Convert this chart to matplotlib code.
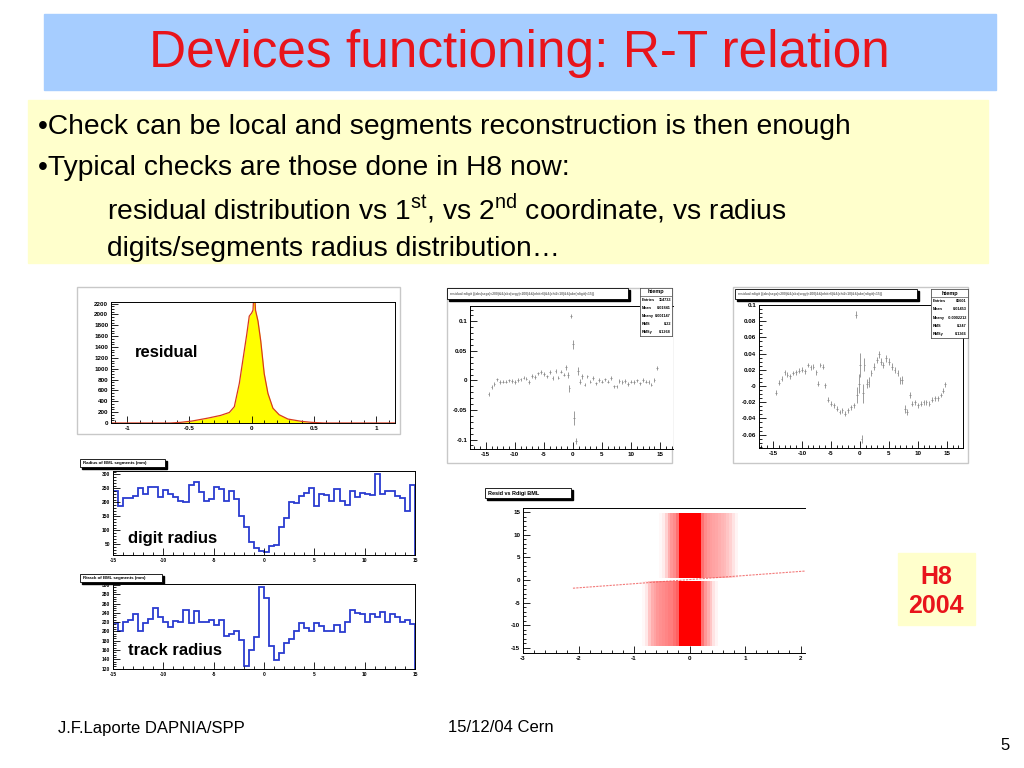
import numpy as np
import matplotlib
matplotlib.use('Agg')
import matplotlib.pyplot as plt
from matplotlib.patches import Rectangle
from matplotlib.colors import LinearSegmentedColormap
from matplotlib.ticker import MultipleLocator

plt.rcParams['font.family'] = ['Liberation Sans', 'DejaVu Sans']
plt.rcParams['mathtext.fontset'] = 'custom'
plt.rcParams['mathtext.rm'] = 'Liberation Sans'

W, H = 1024, 768

# residual distribution (TubeResol BIL - MultiLayer 0)
res_x = [-1.15, -0.65, -0.57, -0.48, -0.35, -0.25, -0.18, -0.14, -0.1, -0.072,
         -0.04, -0.02, 0.0, 0.01, 0.015, 0.025, 0.03, 0.05, 0.072, 0.1,
         0.13, 0.17, 0.22, 0.29, 0.4, 0.48, 0.58, 1.15]
res_y = [0, 0, 12, 36, 91, 140, 194, 300, 727, 1150,
         1636, 1970, 2030, 2080, 2300, 2300, 2080, 1880, 1515, 910,
         545, 273, 152, 73, 30, 12, 0, 0]

# <resid> vs radius, first profile
p1_x = [-14.5, -14, -13.5, -13, -12.5, -12, -11.5, -11, -10.5, -10, -9.5, -9, -8.5,
        -8, -7.5, -7, -6.5, -6, -5.5, -5, -4.5, -4, -3.5, -3, -2.5, -2, -1.5,
        -1.2, -0.9, -0.6, -0.3, 0, 0.2, 0.5, 0.9, 1.2, 1.5,
        2, 2.5, 3, 3.5, 4, 4.5, 5, 5.5, 6, 6.5, 7, 7.5, 8, 8.5, 9, 9.5, 10, 10.5,
        11, 11.5, 12, 12.5, 13, 13.5, 14, 14.5]
p1_y = [-0.023, -0.011, -0.006, 0.002, -0.003, -0.002, -0.002, 0, -0.001, -0.003,
        0.001, 0.002, 0.005, 0.003, -0.003, 0.008, 0.006, 0.012, 0.014, 0.011,
        0.007, 0.014, 0.004, 0.016, 0.005, 0.015, 0.01,
        0.022, 0.01, -0.013, 0.109, 0.061, -0.064, -0.103, 0.016, -0.002, 0.007,
        -0.007, 0.007, -0.002, 0.004, -0.005, 0.001, -0.002, 0.002, -0.002, 0.004,
        -0.01, -0.01, -0.001, -0.003, -0.001, -0.006, -0.002, -0.003, 0, -0.005,
        0.001, -0.002, -0.003, -0.007, 0.001, 0.021]
p1_err = ([0.003] * 27 + [0.005, 0.005, 0.006, 0.004, 0.008, 0.012, 0.005, 0.006]
          + [0.004] * 2 + [0.003] * 26)

# <resid> vs radius, second profile
p2_x = [-14.5, -14, -13.5, -13, -12.5, -12, -11.5, -11, -10.5, -10, -9.5, -9, -8.5,
        -8, -7.5, -7.2, -6.8, -6.3, -6, -5.5, -5, -4.5, -4, -3.5, -3, -2.5, -2,
        -1.5, -1, -0.6, -0.5, -0.2, 0, 0.3, 0.5, 0.8, 1.2, 1.5,
        2, 2.5, 3, 3.3, 3.7, 4, 4.5, 5, 5.5, 6, 6.5, 7, 7.3, 7.8, 8.2, 8.6,
        9, 9.5, 10, 10.5, 11, 11.5, 12, 12.5, 13, 13.5, 14, 14.3, 14.7]
p2_y = [-0.008, 0.004, 0.009, 0.017, 0.014, 0.012, 0.016, 0.017, 0.019, 0.02,
        0.018, 0.026, 0.023, 0.024, 0.017, 0.003, 0.026, 0.024, 0.001,
        -0.017, -0.022, -0.024, -0.028, -0.032, -0.03, -0.034, -0.03, -0.026, -0.024,
        0.088, -0.011, 0.003, 0.026, -0.065, -0.009, 0.026, 0.003, 0.005,
        0.016, 0.024, 0.032, 0.039, 0.03, 0.026, 0.034, 0.03, 0.024, 0.02, 0.016, 0.007,
        0.007, -0.028, -0.032, -0.011,
        -0.022, -0.02, -0.024, -0.022, -0.02, -0.02, -0.022, -0.017, -0.015, -0.015,
        -0.011, -0.006, 0.002]
p2_err = ([0.003] * 29 + [0.004, 0.01, 0.012, 0.015, 0.005, 0.012, 0.008, 0.006, 0.006]
          + [0.004] * 12 + [0.005, 0.005, 0.004, 0.004] + [0.003] * 13)

# digit radius and track radius histograms (60 bins from -15 to 15)
rad_edges = np.linspace(-15, 15, 61)
digit_counts = [241, 188, 214, 214, 223, 253, 231, 255, 256, 220,
                243, 229, 220, 205, 203, 262, 274, 237, 205, 211,
                256, 249, 205, 241, 211, 150, 113, 58, 36, 28,
                22, 43, 48, 111, 144, 200, 196, 223, 235, 250,
                188, 231, 227, 205, 246, 205, 190, 241, 220, 235,
                229, 225, 300, 229, 241, 241, 221, 217, 168, 262]
track_counts = [219, 201, 220, 225, 238, 200, 218, 227, 251, 230,
                220, 209, 223, 221, 246, 218, 244, 220, 220, 224,
                214, 224, 189, 195, 200, 182, 126, 159, 187, 295,
                271, 169, 139, 154, 175, 184, 200, 218, 207, 200,
                218, 211, 201, 200, 214, 199, 220, 246, 239, 237,
                220, 238, 230, 241, 220, 237, 232, 220, 224, 216]

# resid vs rdigit: point density of the two bands, 40 columns of 0.05 from -1 to 1
sc_xrange = [-1.0, 1.0]
upper_density = [0, 0, 0, 0, 0, 0, 0, 0, 0, 0.03,
                 0.08, 0.2, 0.35, 0.45, 0.5, 0.6, 1, 1, 1, 1,
                 1, 1, 1, 1, 0.6, 0.5, 0.45, 0.42, 0.4, 0.38,
                 0.35, 0.32, 0.3, 0.25, 0.2, 0.12, 0.05, 0, 0, 0]
lower_density = [0, 0, 0, 0.03, 0.1, 0.25, 0.35, 0.4, 0.45, 0.48,
                 0.5, 0.52, 0.55, 0.55, 0.6, 0.65, 1, 1, 1, 1,
                 1, 1, 1, 1, 0.6, 0.45, 0.35, 0.25, 0.12, 0.05,
                 0, 0, 0, 0, 0, 0, 0, 0, 0, 0]
upper_band = [0.4, 14.6]
lower_band = [-14.6, -0.4]
line_x = [-2.1, 2.1]
line_y = [-1.8, 2.0]

stats1 = [('Entries', '114733'), ('Mean', '0.01841'), ('Meany', '0.001147'),
          ('RMS', '8.22'), ('RMSy', '0.1268')]
stats2 = [('Entries', '86601'), ('Mean', '0.01453'), ('Meany', '-0.0002212'),
          ('RMS', '8.247'), ('RMSy', '0.1366')]


def box(x0, y0, x1, y1):
    """Pixel rectangle (top-left origin) to figure fraction."""
    return [x0 / W, 1 - y1 / H, (x1 - x0) / W, (y1 - y0) / H]


def root_axes(fig, rect, xlim, ylim, xticks, xlabels, yticks, ylabels, xminor, yminor,
              size=4.5):
    ax = fig.add_axes(box(*rect))
    ax.set_xlim(xlim)
    ax.set_ylim(ylim)
    ax.set_xticks(xticks, xlabels, fontsize=size, fontweight='bold')
    ax.set_yticks(yticks, ylabels, fontsize=size, fontweight='bold')
    ax.xaxis.set_minor_locator(MultipleLocator(xminor))
    ax.yaxis.set_minor_locator(MultipleLocator(yminor))
    ax.tick_params(which='both', direction='in', width=0.6, pad=2)
    ax.tick_params(which='major', length=5)
    ax.tick_params(which='minor', length=2.5)
    for s in ax.spines.values():
        s.set_linewidth(0.7)
    return ax


def title_box(bg, x0, y0, x1, y1, text, size=4.5, color='black'):
    bg.add_patch(Rectangle((x0 + 2, y0 + 2), x1 - x0, y1 - y0, color='black', zorder=3))
    bg.add_patch(Rectangle((x0, y0), x1 - x0, y1 - y0, facecolor='white',
                           edgecolor='black', lw=0.6, zorder=4))
    bg.text(x0 + 3, (y0 + y1) / 2, text, fontsize=size, color=color,
            fontweight='bold', va='center', ha='left', zorder=5)


def stats_box(fig, rect, entries):
    ax = fig.add_axes(box(*rect))
    ax.set_xlim(0, 1)
    ax.set_ylim(len(entries) + 1, 0)
    ax.set_xticks([])
    ax.set_yticks([])
    for s in ax.spines.values():
        s.set_linewidth(0.6)
        s.set_color('#555555')
    ax.text(0.5, 0.5, 'htemp', fontsize=4, fontweight='bold', ha='center', va='center')
    ax.axhline(1, color='#555555', lw=0.5)
    for i, (k, v) in enumerate(entries):
        ax.text(0.04, i + 1.5, k, fontsize=2.8, fontweight='bold', va='center')
        ax.text(0.97, i + 1.5, v, fontsize=2.8, fontweight='bold', va='center', ha='right')
    return ax


fig = plt.figure(figsize=(W / 100, H / 100), dpi=100)
bg = fig.add_axes([0, 0, 1, 1])
bg.set_xlim(0, W)
bg.set_ylim(H, 0)
bg.axis('off')

# title band and text block
bg.add_patch(Rectangle((44, 14), 952, 76, color='#a6cdff'))
bg.text(519, 54, 'Devices functioning: R-T relation', fontsize=37, color='#e8141b',
        ha='center', va='center')
bg.add_patch(Rectangle((28, 100), 960, 163, color='#ffffcc'))
lines = [(38, 127, '\u2022Check can be local and segments reconstruction is then enough'),
         (38, 168, '\u2022Typical checks are those done in H8 now:'),
         (107, 209, 'residual distribution vs 1$^{\\mathrm{st}}$, vs 2$^{\\mathrm{nd}}$ '
                    'coordinate, vs radius'),
         (107, 249, 'digits/segments radius distribution\u2026')]
for x, y, t in lines:
    bg.text(x, y, t, fontsize=20.3, ha='left', va='center')

# canvas frames
for x0, y0, x1, y1 in [(77, 287, 400, 434), (447, 288, 672, 463), (733, 287, 968, 463)]:
    bg.add_patch(Rectangle((x0, y0), x1 - x0, y1 - y0, facecolor='white',
                           edgecolor='#c8c8c8', lw=1))

# residual histogram
ax = root_axes(fig, (111, 302, 395, 423), (-1.13, 1.15), (0, 2230),
               [-1, -0.5, 0, 0.5, 1], ['-1', '-0.5', '0', '0.5', '1'],
               list(range(0, 2201, 200)), [str(v) for v in range(0, 2201, 200)],
               0.1, 50)
ax.fill_between(res_x, res_y, color='#ffff00', lw=0)
ax.plot(res_x, res_y, color='#d83a1e', lw=0.9)
ax.text(0.085, 0.58, 'residual', transform=ax.transAxes, fontsize=12, fontweight='bold',
        va='center')

# profiles
ax = root_axes(fig, (470, 306, 673, 449), (-17.7, 17.2), (-0.116, 0.126),
               [-15, -10, -5, 0, 5, 10, 15], ['-15', '-10', '-5', '0', '5', '10', '15'],
               [-0.1, -0.05, 0, 0.05, 0.1], ['-0.1', '-0.05', '0', '0.05', '0.1'],
               1, 0.01)
ax.errorbar(p1_x, p1_y, yerr=p1_err, xerr=0.15, fmt='none', ecolor='#8a8a8a', elinewidth=0.6)
ax.spines['right'].set_visible(False)

ax = root_axes(fig, (759, 305, 963, 448), (-17.4, 17.8), (-0.0765, 0.1),
               [-15, -10, -5, 0, 5, 10, 15], ['-15', '-10', '-5', '0', '5', '10', '15'],
               [-0.06, -0.04, -0.02, 0, 0.02, 0.04, 0.06, 0.08, 0.1],
               ['-0.06', '-0.04', '-0.02', '-0', '0.02', '0.04', '0.06', '0.08', '0.1'],
               1, 0.005)
ax.errorbar(p2_x, p2_y, yerr=p2_err, xerr=0.15, fmt='none', ecolor='#8a8a8a', elinewidth=0.6)

title_box(bg, 447, 288, 628, 299,
          'residual:rdigit {(abs(segx)<200)&&(abs(segy)<200)&&(nhit>6)&&(chi2<10)&&(abs(rdigit)<15)}',
          size=2.3, color='#666666')
title_box(bg, 735, 289, 917, 299,
          'residual:rdigit {(abs(segx)<200)&&(abs(segy)<200)&&(nhit>6)&&(chi2<10)&&(abs(rdigit)<15)}',
          size=2.3, color='#666666')
stats_box(fig, (640, 288, 672, 336), stats1)
stats_box(fig, (931, 289, 968, 338), stats2)
bg.text(483, 336, '<Resid>vs radius', fontsize=12, fontweight='bold', va='center')
bg.text(765, 328, '<Resid>vs radius', fontsize=12, fontweight='bold', va='center')

# digit / track radius
xt = [-15, -10, -5, 0, 5, 10, 15]
ax = root_axes(fig, (113, 471, 415, 555), (-15, 15), (12, 312),
               xt, [str(v) for v in xt], [50, 100, 150, 200, 250, 300],
               ['50', '100', '150', '200', '250', '300'], 1, 10, size=3.5)
ax.stairs(digit_counts, rad_edges, color='#2a3bd0', lw=1.3)
ax.text(0.05, 0.2, 'digit radius', transform=ax.transAxes, fontsize=12, fontweight='bold',
        va='center')

yt = list(range(120, 301, 20))
ax = root_axes(fig, (113, 584, 415, 669), (-15, 15), (119, 302),
               xt, [str(v) for v in xt], yt, [str(v) for v in yt], 1, 5, size=3.5)
ax.stairs(track_counts, rad_edges, color='#2a3bd0', lw=1.3)
ax.text(0.05, 0.22, 'track radius', transform=ax.transAxes, fontsize=12, fontweight='bold',
        va='center')

title_box(bg, 80, 459, 165, 467, 'Radius of BML segments (mm)', size=3.2)
title_box(bg, 80, 574, 162, 582, 'Rtrack of BML segments (mm)', size=3.2)

# resid vs rdigit scatter
ax = root_axes(fig, (523, 508, 805, 653), (-3, 2.08), (-16.1, 15.9),
               [-3, -2, -1, 0, 1, 2], ['-3', '-2', '-1', '0', '1', '2'],
               [-15, -10, -5, 0, 5, 10, 15],
               ['-15', '-10', '-5', '0', '5', '10', '15'], 0.2, 1)
ax.spines['right'].set_visible(False)
wr = LinearSegmentedColormap.from_list('wr', ['#ffffff', '#ff8c8c', '#ff0000'])
ax.imshow([upper_density], extent=[sc_xrange[0], sc_xrange[1], upper_band[0], upper_band[1]],
          cmap=wr, vmin=0, vmax=1, aspect='auto', interpolation='nearest')
ax.imshow([lower_density], extent=[sc_xrange[0], sc_xrange[1], lower_band[0], lower_band[1]],
          cmap=wr, vmin=0, vmax=1, aspect='auto', interpolation='nearest')
ax.set_xlim(-3, 2.08)
ax.set_ylim(-16.1, 15.9)
ax.plot(line_x, line_y, color='#f05a5a', lw=0.8, alpha=0.8, ls=(0, (2, 1)))
title_box(bg, 485, 488, 571, 498, 'Resid vs Rdigi BML', size=4)
bg.text(536, 531, 'resid. vs radius', fontsize=12, fontweight='bold', va='center')

# H8 2004 tag
bg.add_patch(Rectangle((898, 553), 77, 72, color='#ffffcc'))
bg.text(936, 577, 'H8', fontsize=18, fontweight='bold', color='#e8141b',
        ha='center', va='center')
bg.text(936, 606, '2004', fontsize=18, fontweight='bold', color='#e8141b',
        ha='center', va='center')

# footer
bg.text(58, 728, 'J.F.Laporte DAPNIA/SPP', fontsize=12, va='center')
bg.text(448, 728, '15/12/04 Cern', fontsize=12, va='center')
bg.text(1000, 745, '5', fontsize=12, va='center')

fig.savefig('out.png', dpi=100)
